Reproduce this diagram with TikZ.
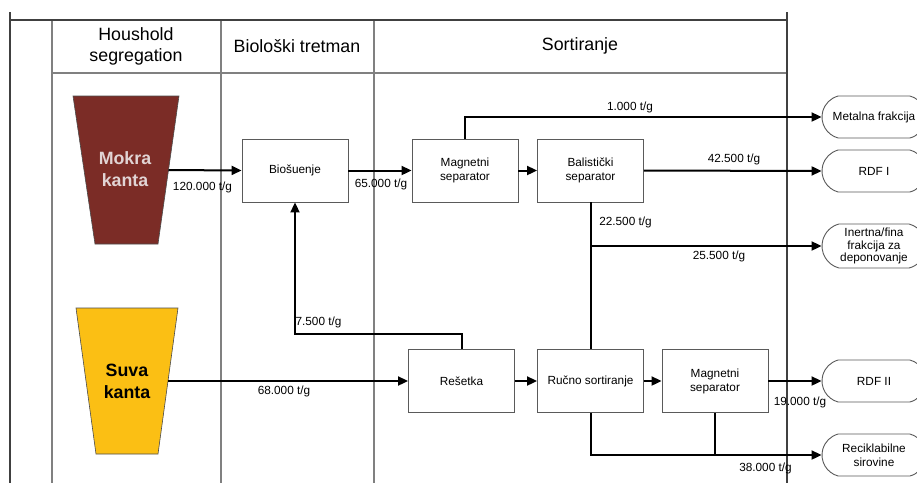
\documentclass[tikz,border=0pt]{standalone}
\usepackage{fontspec}
\setmainfont{Liberation Sans}
\usetikzlibrary{arrows.meta,shapes.misc}
\definecolor{mokra}{RGB}{123,44,38}
\definecolor{suva}{RGB}{251,191,20}
\definecolor{mokratxt}{RGB}{225,212,212}
\definecolor{lanegray}{RGB}{128,128,128}
\definecolor{boxgray}{RGB}{90,90,90}
\begin{document}
\begin{tikzpicture}[x=1pt,y=-1pt,
  every node/.style={font=\fontsize{11.8}{14}\selectfont, inner sep=0pt},
  proc/.style={draw=boxgray, line width=0.9pt, fill=white, minimum width=106pt, minimum height=63pt, align=center},
  term/.style={draw=boxgray, line width=0.9pt, fill=white, rounded rectangle, rounded rectangle arc length=150, minimum width=104pt, minimum height=42pt, align=center},
  flow/.style={line width=2pt, -{Triangle[length=10pt,width=9pt]}},
  link/.style={line width=2pt},
  lab/.style={font=\fontsize{11.8}{14}\selectfont},
  head/.style={font=\fontsize{17.8}{21}\selectfont, align=center},
  kanta/.style={font=\fontsize{17.8}{22}\selectfont\bfseries, align=center},
  lane/.style={draw=lanegray, line width=1.3pt},
  frame/.style={draw=black!75, line width=1.5pt}
]
\useasboundingbox (0,0) rectangle (917,483);
\clip (0,0) rectangle (917,483);
\fill[white] (0,0) rectangle (917,483);

% frame and lanes
\draw[lane] (52,20) -- (52,483);
\draw[lane] (221,20) -- (221,483);
\draw[lane] (374,20) -- (374,483);
\draw[lane] (52,73) -- (787,73);
\draw[frame] (10,12) -- (10,483);
\draw[frame] (787,12) -- (787,483);
\draw[frame] (10,20) -- (787,20);

% headers
\node[head] (h1) at (136,46) {Houshold\\segregation};
\node[head] (h2) at (297,46) {Biološki tretman};
\node[head] (h3) at (580,46) {Sortiranje};

% bins
\filldraw[fill=mokra, draw=black!70, line width=0.6pt] (73,96) -- (179,96) -- (158,244) -- (95,244) -- cycle;
\filldraw[fill=suva, draw=black!70, line width=0.6pt] (76,308) -- (178,308) -- (158,454) -- (96,454) -- cycle;
\node[kanta, text=mokratxt] (mokra) at (125,169) {Mokra\\kanta};
\node[kanta, text=black] (suva) at (127,381) {Suva\\kanta};
\coordinate (mkout) at (168.5,170);
\coordinate (svout) at (168,381);

% process boxes
\node[proc] (bio) at (295,170.5) {Biošuenje};
\node[proc] (mag1) at (465,170.5) {Magnetni\\separator};
\node[proc] (bal) at (590.5,170.5) {Balistički\\separator};
\node[proc] (res) at (461.5,381) {Rešetka};
\node[proc] (rucno) at (590.5,381) {Ručno sortiranje};
\node[proc] (mag2) at (715,381) {Magnetni\\separator};

% terminals
\node[term] (metal) at (874,117) {Metalna frakcija};
\node[term] (rdf1) at (874,171) {RDF I};
\node[term, minimum height=44pt, font=\fontsize{11.8}{12.4}\selectfont] (inert) at (874,246) {Inertna/fina\\frakcija za\\deponovanje};
\node[term] (rdf2) at (874,381) {RDF II};
\node[term] (recik) at (874,455) {Reciklabilne\\sirovine};

% connectors
\draw[flow] (mkout) -- (bio.west);
\draw[flow] (bio.east) -- (mag1.west);
\draw[flow] (mag1.east) -- (bal.west);
\draw[flow] (mag1.north) |- (metal.west);
\draw[flow] (bal.east) -- (rdf1.west);
\draw[link] (bal.south) -- (rucno.north);
\draw[flow] (bal.south |- inert.west) -- (inert.west);
\draw[flow] (svout) -- (res.west);
\draw[flow] (res.north) -- ++(0,-15) -| (bio.south);
\draw[flow] (res.east) -- (rucno.west);
\draw[flow] (rucno.east) -- (mag2.west);
\draw[flow] (mag2.east) -- (rdf2.west);
\draw[flow] (rucno.south) |- (recik.west);
\draw[link] (mag2.south) -- (mag2.south |- recik.west);

% labels
\node[lab] (l1) at (202.5,187) {120.000 t/g};
\node[lab] (l2) at (381,184) {65.000 t/g};
\node[lab] (l3) at (630,107) {1.000 t/g};
\node[lab] (l4) at (734,159) {42.500 t/g};
\node[lab] (l5) at (625.5,222) {22.500 t/g};
\node[lab] (l6) at (719,256) {25.500 t/g};
\node[lab] (l7) at (318.5,322) {7.500 t/g};
\node[lab] (l8) at (284,391) {68.000 t/g};
\node[lab] (l9) at (800,402) {19.000 t/g};
\node[lab] (l10) at (765.5,468) {38.000 t/g};
\end{tikzpicture}
\end{document}
